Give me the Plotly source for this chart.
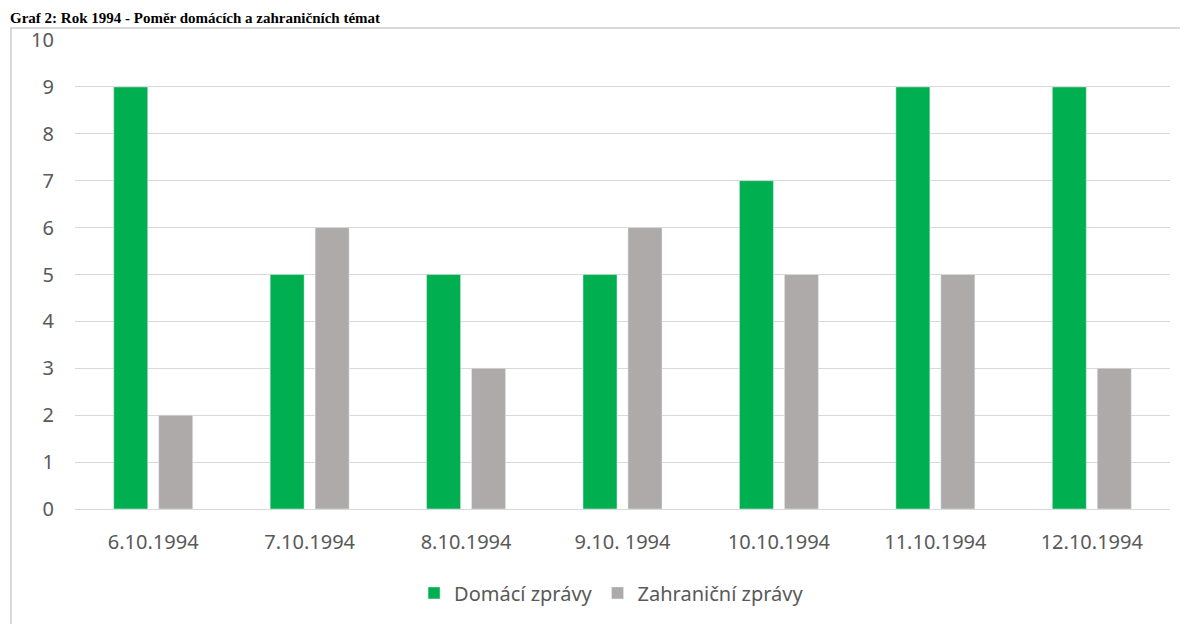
import plotly.graph_objects as go

# Data
dates = ["6.10.1994", "7.10.1994", "8.10.1994", "9.10. 1994",
         "10.10.1994", "11.10.1994", "12.10.1994"]
domaci = [9, 5, 5, 5, 7, 9, 9]
zahranicni = [2, 6, 3, 6, 5, 5, 3]

title = "Graf 2: Rok 1994 - Poměr domácích a zahraničních témat"

fig = go.Figure()
fig.add_trace(go.Bar(x=dates, y=domaci, name="Domácí zprávy", marker_color="#00B050"))
fig.add_trace(go.Bar(x=dates, y=zahranicni, name="Zahraniční zprávy", marker_color="#AEAAAA"))

# page body has an 8px margin, so the figure is a bit smaller than the window
fig.update_layout(
    width=1180, height=616,
    paper_bgcolor="white", plot_bgcolor="white",
    barmode="group", bargap=0.425, bargroupgap=0.244,
    margin=dict(l=67, r=18, t=32, b=115),
    font=dict(family="Noto Sans", size=20, color="#595959"),
    showlegend=True,
    legend=dict(orientation="h", x=0.49, xanchor="center", y=-0.179, yanchor="middle",
                font=dict(size=20, color="#595959"), traceorder="normal"),
    xaxis=dict(showgrid=False, showline=True, linecolor="#D9D9D9", ticks="",
               ticklabelstandoff=15),
    yaxis=dict(range=[0, 10], dtick=1, showgrid=True, gridcolor="#D9D9D9",
               zeroline=False, ticks="", ticklabelstandoff=20),
    shapes=[dict(type="rect", xref="paper", yref="paper",
                 x0=-0.0585, x1=1.1, y0=-0.4, y1=1.0256,
                 line=dict(color="#D9D9D9", width=2), layer="below")],
    annotations=[dict(text="<b>" + title + "</b>",
                      xref="paper", yref="paper", x=-0.0612, y=1.0682,
                      xanchor="left", yanchor="top", showarrow=False,
                      font=dict(family="Liberation Serif", size=15, color="black"))],
)

fig.write_html("out.html")
